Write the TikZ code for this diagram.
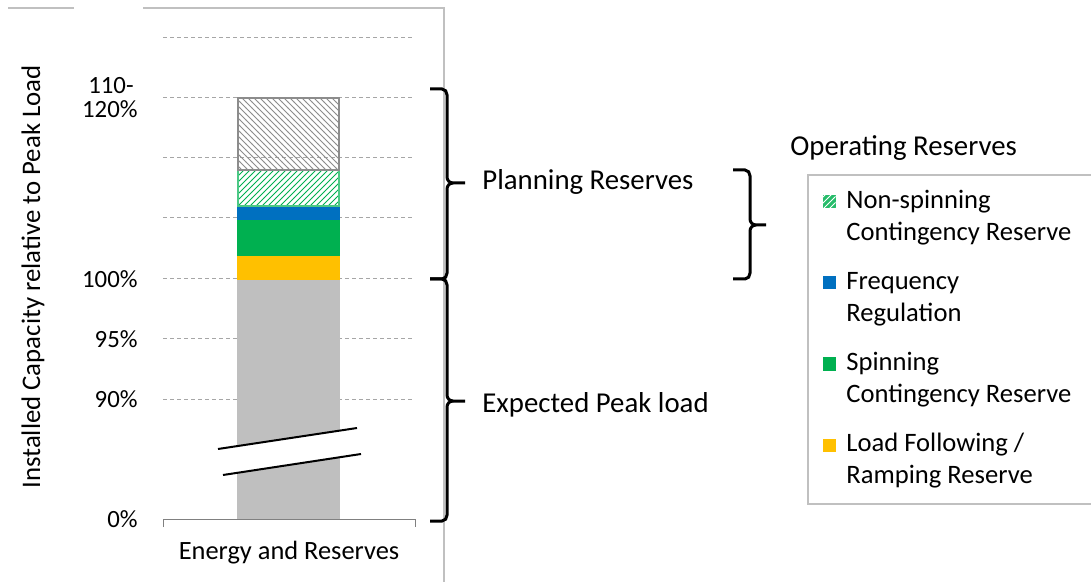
\documentclass[tikz,border=0pt]{standalone}
\usepackage{fontspec}
\setmainfont{Carlito}
\usetikzlibrary{patterns}

\definecolor{barGray}{HTML}{BFBFBF}
\definecolor{frameGray}{HTML}{C0C0C0}
\definecolor{gridGray}{HTML}{A6A6A6}
\definecolor{hatchGray}{HTML}{8C8C8C}
\definecolor{loadYellow}{HTML}{FFC000}
\definecolor{spinGreen}{HTML}{00B050}
\definecolor{regBlue}{HTML}{0070C0}

\tikzset{
  gridline/.style={gridGray, line width=0.5pt, dash pattern=on 2pt off 1.5pt},
  framebox/.style={frameGray, line width=0.6pt},
  bracepath/.style={line width=1.5pt},
  bigtext/.style={font=\fontsize{14.4}{17}\selectfont, anchor=west, inner sep=0pt},
  ticktext/.style={font=\fontsize{12.4}{12}\selectfont, anchor=east, align=right, inner sep=0pt},
  legtext/.style={font=\fontsize{13.3}{16}\selectfont, anchor=west, align=left, inner sep=0pt},
  legmark/.style={minimum size=6.5pt, inner sep=0pt, draw=none}
}

\begin{document}
\begin{tikzpicture}[x=0.5pt, y=-0.5pt]

    \useasboundingbox (0, 0) rectangle (1091, 582);

    % outer frame of the chart
    \draw [framebox] (8, 8) -- (74, 8);
    \draw [framebox] (143, 8) -- (444, 8) -- (444, 582);

    % grid
    \foreach \gy in {38, 98, 158, 218, 279, 339, 399}
        \draw [gridline] (163, \gy) -- (415, \gy);

    % axis
    \draw [gray, line width=0.5pt] (163, 527) -- (163, 519) -- (415, 519) -- (415, 527);

    % stacked bar
    \fill [barGray]     (237, 280) rectangle (340, 519);
    \fill [loadYellow]  (237, 256) rectangle (340, 280);
    \fill [spinGreen]   (237, 220) rectangle (340, 256);
    \fill [regBlue]     (237, 206) rectangle (340, 220);
    \draw [spinGreen!70, line width=0.6pt, pattern=north east lines, pattern color=spinGreen]
          (238, 170) rectangle (339, 206);
    \draw [hatchGray, line width=1.3pt, pattern=north west lines, pattern color=hatchGray]
          (238, 98) rectangle (339, 170);

    % axis break
    \fill [white] (218, 449) -- (357, 428) -- (361, 454) -- (223, 475) -- cycle;
    \draw [line width=1pt] (218, 449) -- (357, 428);
    \draw [line width=1pt] (223, 475) -- (361, 454);

    % tick labels
    \node [ticktext] (t110) at (134,  86) {110-};
    \node [ticktext] (t120) at (138, 109) {120\%};
    \node [ticktext] (t100) at (138, 279) {100\%};
    \node [ticktext] (t95)  at (138, 339) {95\%};
    \node [ticktext] (t90)  at (138, 399) {90\%};
    \node [ticktext] (t0)   at (138, 519) {0\%};

    \node [font=\fontsize{13.4}{15}\selectfont, rotate=90] (ytitle) at (33, 277)
          {Installed Capacity relative to Peak Load};
    \node [font=\fontsize{13.2}{15}\selectfont] (xtitle) at (289, 553) {Energy and Reserves};

    % braces
    \draw [bracepath] (430, 89) -- (442, 89) to[out=0, in=90] (447, 95) -- (447, 177)
          to[out=270, in=180] (453, 183) -- (465, 183);
    \draw [bracepath] (453, 183) to[out=180, in=90] (447, 189) -- (447, 273)
          to[out=270, in=0] (442, 279) -- (430, 279);

    \draw [bracepath] (430, 279) -- (442, 279) to[out=0, in=90] (447, 285) -- (447, 395)
          to[out=270, in=180] (453, 401) -- (465, 401);
    \draw [bracepath] (453, 401) to[out=180, in=90] (447, 407) -- (447, 515)
          to[out=270, in=0] (442, 521) -- (430, 521);

    \node [bigtext] (planning) at (482, 182) {Planning Reserves};
    \node [bigtext] (peak)     at (482, 405) {Expected Peak load};

    \draw [bracepath] (733, 170) -- (745, 170) to[out=0, in=90] (750, 176) -- (750, 219)
          to[out=270, in=180] (756, 225) -- (766, 225);
    \draw [bracepath] (756, 225) to[out=180, in=90] (750, 231) -- (750, 273)
          to[out=270, in=0] (745, 279) -- (733, 279);

    \node [bigtext] (operating) at (790, 148) {Operating Reserves};

    % legend
    \draw [framebox] (1095, 175) -- (808, 175) -- (808, 504) -- (1095, 504);

    \node [legmark, fill=spinGreen!85,
           postaction={pattern=north east lines, pattern color=white}] (mNon) at (829, 202) {};
    \node [legtext] (lNon) at (846, 218) {Non-spinning\\Contingency Reserve};

    \node [legmark, fill=regBlue] (mReg) at (829, 283) {};
    \node [legtext] (lReg) at (846, 299) {Frequency\\Regulation};

    \node [legmark, fill=spinGreen] (mSpin) at (829, 364) {};
    \node [legtext] (lSpin) at (846, 380) {Spinning\\Contingency Reserve};

    \node [legmark, fill=loadYellow] (mLoad) at (829, 445) {};
    \node [legtext] (lLoad) at (846, 461) {Load Following /\\Ramping Reserve};

\end{tikzpicture}
\end{document}
